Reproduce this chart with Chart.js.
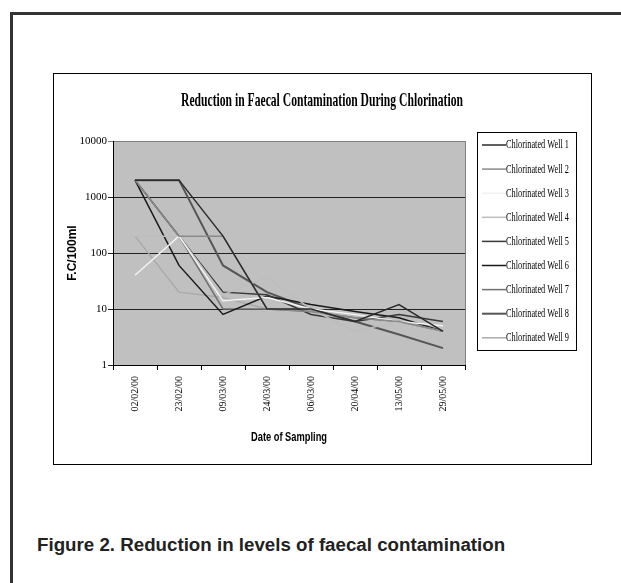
<!DOCTYPE html>
<html>
<head>
<meta charset="utf-8">
<script src="https://cdn.jsdelivr.net/npm/chart.js@4"></script>
<style>
  body { margin: 0; background: #fff; width: 621px; height: 583px; overflow: hidden; position: relative; }
  #frame { position: absolute; left: 10px; top: 12px; width: 640px; height: 600px; border-left: 3px solid #333; border-top: 3px solid #333; }
  #box { position: absolute; left: 53px; top: 73px; width: 537px; height: 390px; border: 1px solid #000; background: #fff; }
  #caption { position: absolute; left: 37px; top: 536px; font: bold 18px "Liberation Sans", Arial, sans-serif; line-height: 18px; color: #222; white-space: nowrap; transform-origin: 0 0; }
</style>
</head>
<body>
<div id="frame"></div>
<div id="box"><canvas id="chart"></canvas></div>
<div id="caption">Figure 2. Reduction in levels of faecal contamination</div>
<script>
// sampling dates and readings (F.C/100ml)
const dates = ["02/02/00", "23/02/00", "09/03/00", "24/03/00", "06/03/00", "20/04/00", "13/05/00", "29/05/00"];
const well1 = [2000, 2000, 200, 10, 10, 6, 12, 4];
const well2 = [2000, 200, 200, 10, 9, 7, 6, 4];
const well3 = [40, 200, 14, 16, 10, 8, 6, 5];
const well4 = [200, 200, 18, 37, 10, 4, 6, 4];
const well5 = [2000, 200, 20, 18, 8, 6, 8, 6];
const well6 = [2000, 60, 8, 17, 12, 9, 7, 4];
const well7 = [2000, 200, 10, 10, 9, 7, 6, 4];
const well8 = [2000, 2000, 60, 20, 10, 6, 3.5, 2];
const well9 = [200, 20, 16, 10, 10, 8, 6, 4];
const yTicks = [1, 10, 100, 1000, 10000];

const wells = [well1, well2, well3, well4, well5, well6, well7, well8, well9];
const names = wells.map((w, i) => "Chlorinated Well " + (i + 1));
const colours = ["#2b2b2b", "#8a8a8a", "#f2f2f2", "#bdbdbd", "#383838", "#1a1a1a", "#707070", "#555555", "#a9a9a9"];

// squeeze text to a given width (the original uses a condensed face)
function fitText(ctx, text, x, y, font, width, align) {
  ctx.save();
  ctx.font = font;
  const w = ctx.measureText(text).width;
  ctx.translate(x, y);
  ctx.scale(width / w, 1);
  ctx.textAlign = align || "center";
  ctx.textBaseline = "middle";
  ctx.fillStyle = "#000";
  ctx.fillText(text, 0, 0);
  ctx.restore();
}

const sheet = {
  id: "sheet",
  beforeDraw(chart) {
    const { ctx, chartArea: a } = chart;
    ctx.save();
    ctx.fillStyle = "#c0c0c0";
    ctx.fillRect(a.left, a.top, a.right - a.left, a.bottom - a.top);
    ctx.restore();
  },
  afterDraw(chart) {
    const { ctx, chartArea: a } = chart;
    ctx.save();
    ctx.strokeStyle = "#808080";
    ctx.lineWidth = 1;
    ctx.beginPath();
    ctx.moveTo(a.right + 0.5, a.top);
    ctx.lineTo(a.right + 0.5, a.bottom);
    ctx.stroke();
    ctx.restore();

    fitText(ctx, "Reduction in Faecal Contamination During Chlorination", 268, 27, 'bold 19px "Liberation Serif"', 282);
    fitText(ctx, "Date of Sampling", (a.left + a.right) / 2, 363, 'bold 13px "Liberation Sans"', 76);

    ctx.save();
    ctx.translate(19, (a.top + a.bottom) / 2);
    ctx.rotate(-Math.PI / 2);
    ctx.font = 'bold 12px "Liberation Sans"';
    ctx.textAlign = "center";
    ctx.textBaseline = "middle";
    ctx.fillStyle = "#000";
    ctx.fillText("F.C/100ml", 0, 0);
    ctx.restore();

    // legend box
    ctx.save();
    ctx.strokeStyle = "#000";
    ctx.lineWidth = 1;
    ctx.strokeRect(423.5, 58.5, 99, 218);
    chart.data.datasets.forEach((ds, i) => {
      const y = 71 + i * 24.1;
      ctx.strokeStyle = ds.borderColor;
      ctx.lineWidth = ds.borderWidth;
      ctx.beginPath();
      ctx.moveTo(428, y);
      ctx.lineTo(452, y);
      ctx.stroke();
      fitText(ctx, ds.label, 452, y, '13px "Liberation Serif"', 63, "left");
    });
    ctx.restore();
  }
};

new Chart(document.getElementById("chart"), {
  type: "line",
  data: {
    labels: dates,
    datasets: wells.map((w, i) => ({
      label: names[i],
      data: w,
      borderColor: colours[i],
      backgroundColor: colours[i],
      borderWidth: i === 7 ? 2 : 1.5,
      pointRadius: 0,
      tension: 0
    }))
  },
  options: {
    responsive: true,
    maintainAspectRatio: false,
    animation: false,
    layout: { padding: { top: 67, right: 126, left: 0, bottom: 0 } },
    plugins: {
      legend: { display: false },
      title: { display: false },
      tooltip: { enabled: false }
    },
    scales: {
      x: {
        offset: true,
        afterFit: s => { s.height = 99; },
        grid: { drawOnChartArea: false, drawTicks: true, tickLength: 5, color: "#000", offset: true },
        border: { color: "#000" },
        ticks: { minRotation: 90, maxRotation: 90, padding: 6, color: "#000", font: { family: "Liberation Serif", size: 10 } }
      },
      y: {
        type: "logarithmic",
        min: 1,
        max: 10000,
        afterFit: s => { s.width = 59; },
        afterBuildTicks: s => { s.ticks = yTicks.map(v => ({ value: v })); },
        grid: {
          drawTicks: true,
          tickLength: 5,
          color: c => (c.tick && c.tick.value === 10000 ? "#808080" : "#222")
        },
        border: { color: "#000" },
        ticks: { padding: 1, color: "#000", font: { family: "Liberation Serif", size: 11 }, callback: v => String(v) }
      }
    }
  },
  plugins: [sheet]
});

const cap = document.getElementById("caption");
cap.style.transform = "scaleX(" + (468 / cap.offsetWidth) + ")";
</script>
</body>
</html>
